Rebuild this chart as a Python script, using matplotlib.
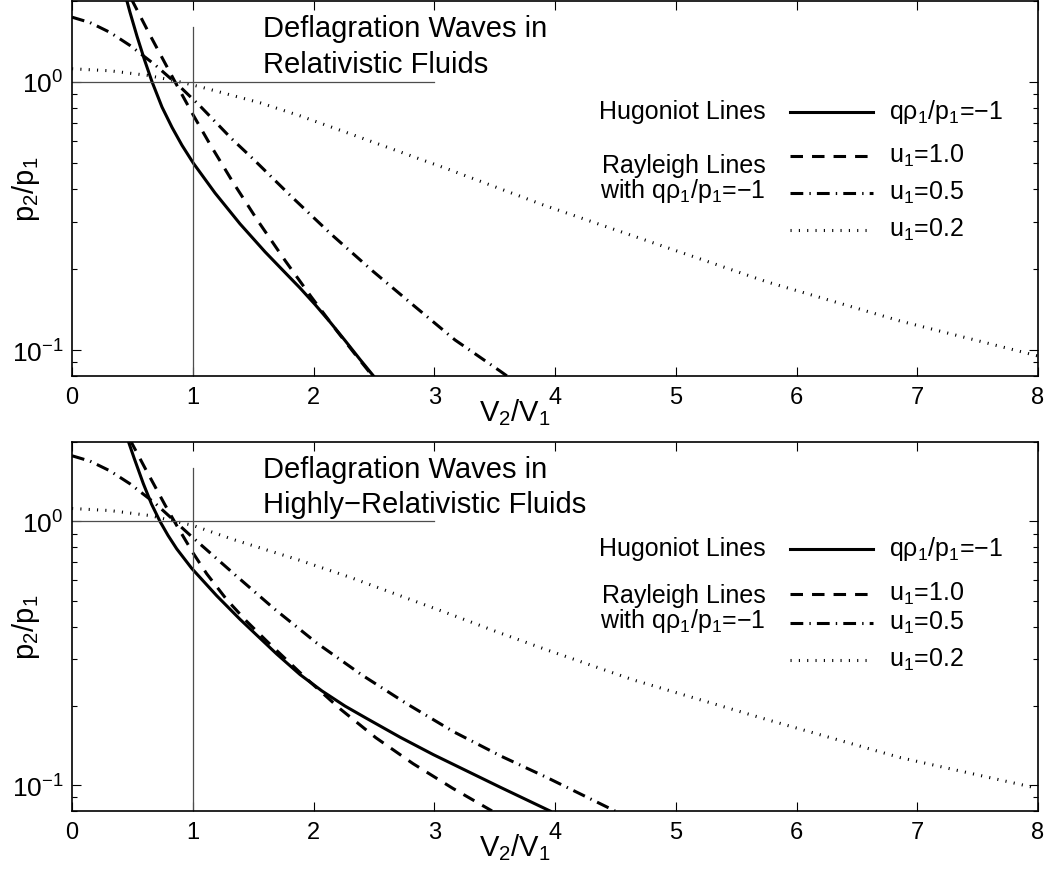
import matplotlib
matplotlib.use("Agg")
import matplotlib.pyplot as plt
from matplotlib.ticker import LogLocator, NullFormatter

plt.rcParams["font.family"] = ["Liberation Sans", "DejaVu Sans"]
plt.rcParams["mathtext.fontset"] = "custom"
plt.rcParams["mathtext.rm"] = "Liberation Sans"
plt.rcParams["mathtext.it"] = "Liberation Sans:italic"
plt.rcParams["mathtext.default"] = "regular"
plt.rcParams["lines.scale_dashes"] = False

# ---- data (V2/V1, p2/p1) ----
# upper panel: relativistic fluid
top_hug_v = [0.4182, 0.4803, 0.5383, 0.6004, 0.6625, 0.7453, 0.8282, 0.9110, 1.0046, 1.1843,
             1.3913, 1.5983, 1.7499, 1.8882, 2.0124, 2.1366, 2.2609, 2.3851, 2.4969]
top_hug_p = [2.3, 1.8137, 1.477, 1.206, 1.0, 0.8044, 0.6759, 0.5794, 0.4973, 0.3849,
             0.2953, 0.2323, 0.1974, 0.1703, 0.1478, 0.1272, 0.1085, 0.0922, 0.080]

top_u10_v = [0.4306, 0.646, 0.8696, 1.0046, 1.1429, 1.3333, 1.5404, 1.764, 1.9793, 2.1946, 2.3437, 2.4886]
top_u10_p = [2.3, 1.492, 0.9679, 0.7504, 0.5844, 0.4217, 0.3024, 0.2157, 0.1582, 0.1176, 0.0965, 0.080]

top_u05_v = [0.0, 0.1491, 0.3147, 0.4803, 0.6874, 0.8944, 1.0600, 1.3226, 1.499, 1.8112, 2.1433, 2.4886, 2.824, 3.1718, 3.5445, 3.6025]
top_u05_p = [1.741, 1.662, 1.5276, 1.3655, 1.1565, 0.958, 0.8124, 0.6128, 0.516, 0.3755, 0.2709, 0.1972, 0.1472, 0.1090, 0.0835, 0.080]

top_u02_v = [0.0, 0.3147, 0.621, 0.853, 1.060, 1.3085, 1.557, 1.888, 2.302, 2.716, 3.130, 3.901, 4.646, 5.756, 6.857, 8.0]
top_u02_p = [1.118, 1.099, 1.057, 1.009, 0.958, 0.894, 0.835, 0.7465, 0.640, 0.548, 0.4694, 0.3476, 0.2663, 0.1794, 0.1283, 0.095]

# lower panel: highly-relativistic fluid
bot_hug_v = [0.4389, 0.5135, 0.5905, 0.6584, 0.7288, 0.795, 0.8671, 0.9913, 1.1983, 1.3913, 1.6952,
             1.8882, 2.0704, 2.2609, 2.4406, 2.7164, 2.9921, 3.5445, 3.9586]
bot_hug_p = [2.19, 1.742, 1.391, 1.164, 1.0, 0.8855, 0.7875, 0.6643, 0.5231, 0.4259, 0.3146,
             0.263, 0.2279, 0.1998, 0.1793, 0.1523, 0.1308, 0.0985, 0.080]

bot_u10_v = [0.4803, 0.6046, 0.7702, 0.8696, 1.0046, 1.1155, 1.2812, 1.4468, 1.6124, 1.9437, 2.2195, 2.5160, 2.8240, 3.1511, 3.4783]
bot_u10_p = [2.04, 1.593, 1.155, 0.9608, 0.757, 0.6335, 0.5056, 0.4183, 0.3522, 0.2532, 0.1951, 0.1516, 0.1209, 0.0976, 0.080]

bot_u05_v = [0.0, 0.1491, 0.3147, 0.4803, 0.6874, 0.9938, 1.3499, 1.6729, 2.0265, 2.3992, 2.7718, 3.1578, 3.5586, 3.9313, 4.4969]
bot_u05_p = [1.774, 1.693, 1.555, 1.389, 1.173, 0.874, 0.628, 0.4675, 0.3464, 0.2623, 0.2039, 0.1599, 0.1287, 0.1072, 0.080]

bot_u02_v = [0.0, 0.3147, 0.646, 1.002, 1.333, 1.888, 2.302, 3.130, 3.545, 3.934, 4.646, 5.756, 6.857, 8.0]
bot_u02_p = [1.12, 1.10, 1.053, 0.966, 0.855, 0.7125, 0.6146, 0.4457, 0.3779, 0.326, 0.2512, 0.1775, 0.1275, 0.0974]

# reference cross at the initial state
vert_v = [1, 1]
vert_p = [0.08, 1.6]
horiz_v = [0, 3]
horiz_p = [1, 1]

x_ticks = [0, 1, 2, 3, 4, 5, 6, 7, 8]
legend_labels = [r"q$\rho_1$/p$_1$=−1", "u$_1$=1.0", "u$_1$=0.5", "u$_1$=0.2"]

# line styles (points)
LW = 2.2
styles = [
    dict(ls="-"),
    dict(dashes=(9.0, 6.5)),
    dict(dashes=(9.2, 4.4, 1.0, 4.4)),
    dict(dashes=(0.8, 5.2)),
]

fig = plt.figure(figsize=(10.53, 8.78), dpi=100)
ax_top = fig.add_axes([0.0684, 0.5706, 0.9174, 0.4271])
ax_bot = fig.add_axes([0.0684, 0.0752, 0.9174, 0.4202])


def draw_panel(ax, curves, title, lay):
    for (v, p), st in zip(curves, styles):
        ax.plot(v, p, color="k", lw=LW, **st)
    ax.plot(vert_v, vert_p, color="0.3", lw=0.9)
    ax.plot(horiz_v, horiz_p, color="0.3", lw=0.9)

    ax.set_yscale("log")
    ax.set_xlim(0, 8)
    ax.set_ylim(0.08, 2.0)
    ax.set_xticks(x_ticks)
    ax.yaxis.set_major_locator(LogLocator(base=10))
    ax.yaxis.set_minor_locator(LogLocator(base=10, subs=range(2, 10)))
    ax.yaxis.set_minor_formatter(NullFormatter())
    ax.tick_params(which="both", direction="in", top=True, right=True, width=0.8)
    ax.tick_params(which="major", length=6.5)
    ax.tick_params(which="minor", length=3.3)
    ax.tick_params(axis="x", labelsize=17, pad=7)
    ax.tick_params(axis="y", labelsize=19, pad=6)
    for s in ax.spines.values():
        s.set_linewidth(1.2)

    ax.set_xlabel("V$_2$/V$_1$", fontsize=21, va="baseline")
    ax.xaxis.set_label_coords(0.4586, lay["xlab"])
    ax.set_ylabel("p$_2$/p$_1$", fontsize=21)
    ax.yaxis.set_label_coords(-0.031, 0.5)

    ax.text(0.198, 0.906, title[0], fontsize=21, va="baseline", transform=ax.transAxes)
    ax.text(0.198, 0.8115, title[1], fontsize=21, va="baseline", transform=ax.transAxes)

    # hand-made legend
    tr = ax.transAxes
    ax.text(0.7184, lay["hug"], "Hugoniot Lines", fontsize=18, ha="right", va="baseline", transform=tr)
    ax.text(0.7184, lay["ray1"], "Rayleigh Lines", fontsize=18, ha="right", va="baseline", transform=tr)
    ax.text(0.7184, lay["ray2"], r"with q$\rho_1$/p$_1$=−1", fontsize=18, ha="right", va="baseline", transform=tr)
    rows = [lay["hug"], lay["u10"], lay["u05"], lay["u02"]]
    dy = 6.0 / lay["h"]
    for yb, st, lab in zip(rows, styles, legend_labels):
        ax.plot([0.7433, 0.8292], [yb + dy, yb + dy], color="k", lw=LW, transform=tr, **st)
        ax.text(0.8457, yb, lab, fontsize=18, ha="left", va="baseline", transform=tr)
    ax.set_xlim(0, 8)
    ax.set_ylim(0.08, 2.0)


top_lay = dict(h=375, hug=0.687, ray1=0.545, ray2=0.4765, u10=0.570, u05=0.472, u02=0.374, xlab=-0.119)
bot_lay = dict(h=369, hug=0.694, ray1=0.5656, ray2=0.498, u10=0.572, u05=0.4932, u02=0.394, xlab=-0.121)

draw_panel(ax_top,
           [(top_hug_v, top_hug_p), (top_u10_v, top_u10_p), (top_u05_v, top_u05_p), (top_u02_v, top_u02_p)],
           ["Deflagration Waves in", "Relativistic Fluids"], top_lay)
draw_panel(ax_bot,
           [(bot_hug_v, bot_hug_p), (bot_u10_v, bot_u10_p), (bot_u05_v, bot_u05_p), (bot_u02_v, bot_u02_p)],
           ["Deflagration Waves in", "Highly−Relativistic Fluids"], bot_lay)

fig.savefig("out.png", dpi=100, facecolor="white")
